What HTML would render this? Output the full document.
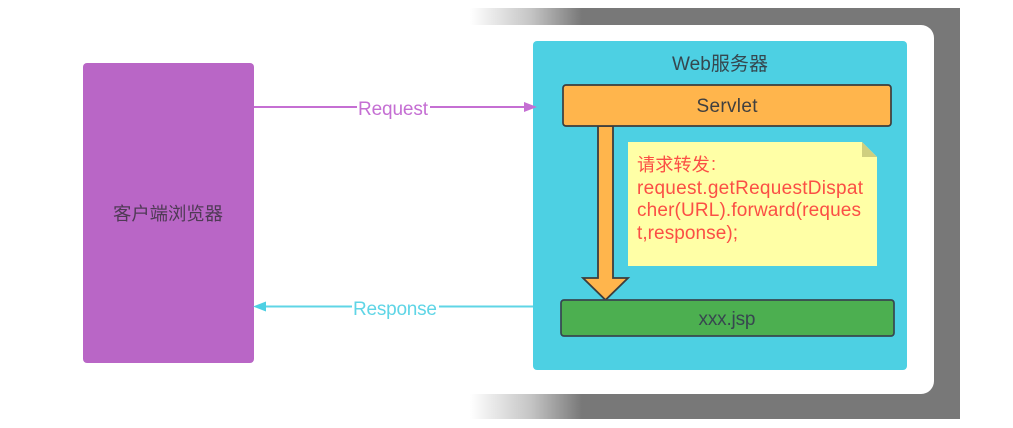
<!DOCTYPE html>
<html>
<head>
<meta charset="utf-8">
<style>
html,body{margin:0;padding:0;background:#fff;width:1013px;height:428px;overflow:hidden}
svg{display:block;filter:blur(.3px)}
text{font-family:"Liberation Sans","Noto Sans CJK SC",sans-serif}
</style>
</head>
<body>
<svg width="1013" height="428" viewBox="0 0 1013 428" xmlns="http://www.w3.org/2000/svg">
<defs>
<linearGradient id="g" gradientUnits="userSpaceOnUse" x1="470" y1="0" x2="582" y2="0">
<stop offset="0" stop-color="#fff"/>
<stop offset="0.55" stop-color="#c4c4c4"/>
<stop offset="1" stop-color="#787878"/>
</linearGradient>
</defs>
<rect x="470" y="8" width="490" height="411" fill="url(#g)"/>
<rect x="300" y="25" width="634" height="369" rx="13" fill="#fff"/>
<rect x="0" y="25" width="470" height="369" fill="#fff"/>

<rect x="83" y="63" width="171" height="300" rx="4" fill="#b966c6"/>
<text x="168" y="220" font-size="18.4" fill="#4f3a55" text-anchor="middle" textLength="110">客户端浏览器</text>

<rect x="533" y="41" width="374" height="329" rx="4" fill="#4dd0e3"/>
<text x="720" y="70" font-size="19" fill="#35474f" text-anchor="middle" textLength="96">Web服务器</text>

<line x1="254" y1="107" x2="526" y2="107" stroke="#c56fd3" stroke-width="2"/>
<polygon points="524,102 537,107 524,112" fill="#c56fd3"/>
<rect x="357" y="96" width="73" height="24" fill="#fff"/>
<text x="393" y="115" font-size="19" fill="#c56fd3" text-anchor="middle" textLength="70">Request</text>

<line x1="533" y1="306.5" x2="262" y2="306.5" stroke="#5fd5e6" stroke-width="2"/>
<polygon points="266,301.5 253,306.5 266,311.5" fill="#4dd0e3"/>
<rect x="352" y="296" width="87" height="24" fill="#fff"/>
<text x="395" y="315" font-size="19" fill="#5fd5e6" text-anchor="middle" textLength="84">Response</text>

<polygon points="598,126 613,126 613,278 628,278 605.5,300 583,278 598,278" fill="#ffb54c" stroke="#3d3d3d" stroke-width="1.8" stroke-linejoin="miter"/>

<rect x="563" y="85" width="328" height="41" rx="3" fill="#ffb54c" stroke="#3d3d3d" stroke-width="1.7"/>
<text x="727" y="112" font-size="19" fill="#3f3f3f" text-anchor="middle" textLength="61">Servlet</text>

<rect x="561" y="300" width="333" height="36" rx="3" fill="#4caf50" stroke="#37474f" stroke-width="1.7"/>
<text x="727" y="325" font-size="19" fill="#37474f" text-anchor="middle" textLength="57">xxx.jsp</text>

<polygon points="628,142 862,142 877,157 877,266 628,266" fill="#ffffa6"/>
<polygon points="862,142 877,157 862,157" fill="#cfcf7f"/>
<text x="637" y="171" font-size="18.2" fill="#fb4f45">请求转发</text>
<text x="711" y="170" font-size="18.2" fill="#fb4f45">:</text>
<text x="637" y="194" font-size="19" fill="#fb4f45" textLength="226">request.getRequestDispat</text>
<text x="637" y="216" font-size="19" fill="#fb4f45" textLength="224">cher(URL).forward(reques</text>
<text x="637" y="239" font-size="19" fill="#fb4f45" textLength="101">t,response);</text>
</svg>
</body>
</html>
